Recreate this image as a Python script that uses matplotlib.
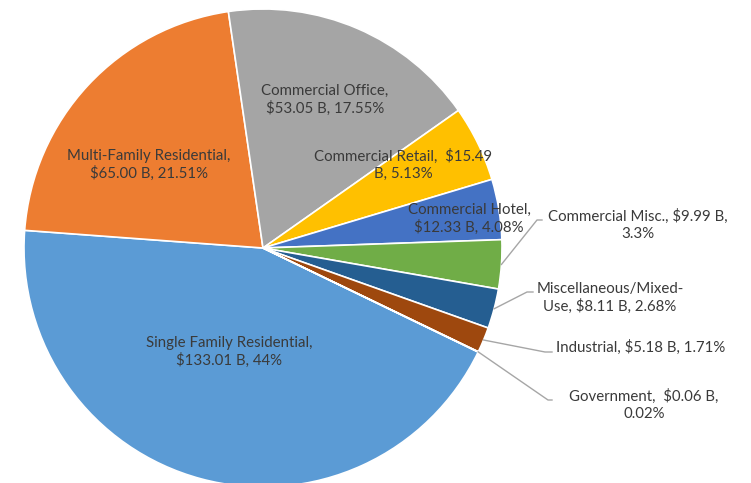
import numpy as np
import matplotlib
matplotlib.use("Agg")
import matplotlib.pyplot as plt

# --- data ---
categories = ["Single Family Residential", "Multi-Family Residential", "Commercial Office",
              "Commercial Retail", "Commercial Hotel", "Commercial Misc.",
              "Miscellaneous/Mixed-Use", "Industrial", "Government"]
values = [133.01, 65.00, 53.05, 15.49, 12.33, 9.99, 8.11, 5.18, 0.06]  # $ billions
labels = ["Single Family Residential,\n$133.01 B, 44%",
          "Multi-Family Residential,\n$65.00 B, 21.51%",
          "Commercial Office,\n$53.05 B, 17.55%",
          "Commercial Retail,  $15.49\nB, 5.13%",
          "Commercial Hotel,\n$12.33 B, 4.08%",
          "Commercial Misc., $9.99 B,\n3.3%",
          "Miscellaneous/Mixed-\nUse, $8.11 B, 2.68%",
          "Industrial, $5.18 B, 1.71%",
          "Government,  $0.06 B,\n0.02%"]
colors = ["#5B9BD5", "#ED7D31", "#A5A5A5", "#FFC000", "#4472C4",
          "#70AD47", "#255E91", "#9E480E", "#636363"]

# layout (pixel coords, y measured from the top of the image)
W, H = 751, 483
cx, cy, R = 263, 248, 239
label_pos = [(229, 352), (149, 165), (325, 100), (403, 165), (469, 219),
             (638, 225), (610, 298), (641, 347), (644, 405)]
# outside labels get a leader line: index -> (elbow, end)
leaders = {5: ((537, 220), (542, 220)),
           6: ((527, 292), (533, 292)),
           7: ((545, 352), (552, 352)),
           8: ((548, 400), (552, 400))}

plt.rcParams["font.family"] = ["Lato", "DejaVu Sans"]

fig = plt.figure(figsize=(W / 100, H / 100), dpi=100)
ax = fig.add_axes([0, 0, 1, 1])

wedges, _ = ax.pie(values, colors=colors, startangle=90 - 115.8, counterclock=False,
                   center=(cx, H - cy), radius=R,
                   wedgeprops=dict(edgecolor="white", linewidth=1.2))

for i, (x, y) in enumerate(label_pos):
    ax.text(x, H - y, labels[i], ha="center", va="center", fontsize=10.8,
            color="#3a3a3a", linespacing=1.22)

for i, (elbow, end) in leaders.items():
    w = wedges[i]
    mid = np.deg2rad((w.theta1 + w.theta2) / 2)
    sx = cx + R * np.cos(mid)
    sy = (H - cy) + R * np.sin(mid)
    ax.plot([sx, elbow[0], end[0]], [sy, H - elbow[1], H - end[1]],
            color="#A6A6A6", linewidth=1)

ax.set_xlim(0, W)
ax.set_ylim(0, H)
ax.axis("off")

fig.savefig("out.png", dpi=100)
